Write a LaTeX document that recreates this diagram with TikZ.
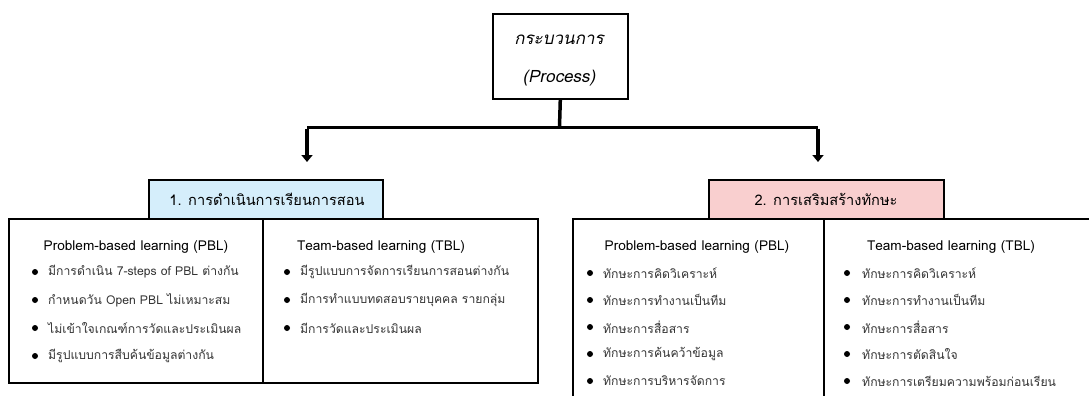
\documentclass[tikz,border=0pt]{standalone}
\usepackage{fontspec}
\setmainfont[Script=Thai]{Loma}
\newfontfamily\thaiit[Script=Thai,FakeSlant=0.2]{Loma}
\usetikzlibrary{arrows.meta}
\definecolor{hblue}{HTML}{D5EEFB}
\definecolor{hpink}{HTML}{F9CFCF}
\definecolor{txt}{HTML}{333333}
\tikzset{
  box/.style={draw=black, line width=1.6pt, inner sep=0pt, anchor=north west},
  hdr/.style={font=\fontsize{13.6}{15}\selectfont, inner sep=0pt, text=black},
  sechdr/.style={font=\fontsize{14.6}{16}\selectfont, inner sep=0pt, text=black},
  proctext/.style={font=\thaiit\fontsize{17}{19}\selectfont, inner sep=0pt},
  item/.style={font=\fontsize{12.2}{14}\selectfont, inner sep=0pt, anchor=west, text=txt},
  dot/.style={circle, fill=black, inner sep=0pt, minimum size=6pt},
  conn/.style={line width=3.5pt},
  arr/.style={line width=3.5pt, -{Triangle[width=11pt,length=7pt]}},
}
\begin{document}
\begin{tikzpicture}[x=1pt,y=-1pt]
\useasboundingbox (0,0) rectangle (1089,396);
% process box
\node[box, minimum width=135pt, minimum height=85pt] (proc) at (492,13) {};
\node[proctext] (procA) at (559,40) {กระบวนการ};
\node[proctext] (procB) at (559,78) {(Process)};
% connectors
\coordinate (j) at (559.5,127);
\coordinate (jl) at (307,127);
\coordinate (jr) at (818,127);
\coordinate (tl) at (307,162);
\coordinate (tr) at (818,162);
\draw[conn] (proc.south) -- (j);
\draw[conn, line width=3pt] (jl) -- (jr);
\draw[arr] ([yshift=-1.5pt]jl) -- (tl);
\draw[arr] ([yshift=-1.5pt]jr) -- (tr);
% section 1
\node[box, fill=hblue, minimum width=234pt, minimum height=39pt] (h1) at (148,179) {};
\node[sechdr] (h1t) at (267,199) {1. การดำเนินการเรียนการสอน};
\node[box, minimum width=254pt, minimum height=164pt] (c11) at (8,218) {};
\node[box, minimum width=275pt, minimum height=164pt] (c12) at (262,218) {};
\node[hdr] (c11h) at (136,247) {Problem-based learning (PBL)};
\node[hdr] (c12h) at (381,247) {Team-based learning (TBL)};
\node[dot] (b111) at (35,272) {}; \node[item] (t111) at (48,272) {มีการดำเนิน 7-steps of PBL ต่างกัน};
\node[dot] (b112) at (35,300) {}; \node[item] (t112) at (48,300) {กำหนดวัน Open PBL ไม่เหมาะสม};
\node[dot] (b113) at (35,328) {}; \node[item] (t113) at (48,328) {ไม่เข้าใจเกณฑ์การวัดและประเมินผล};
\node[dot] (b114) at (35,356) {}; \node[item] (t114) at (48,356) {มีรูปแบบการสืบค้นข้อมูลต่างกัน};
\node[dot] (b121) at (287,272) {}; \node[item] (t121) at (300,272) {มีรูปแบบการจัดการเรียนการสอนต่างกัน};
\node[dot] (b122) at (287,300) {}; \node[item] (t122) at (300,300) {มีการทำแบบทดสอบรายบุคคล รายกลุ่ม};
\node[dot] (b123) at (287,328) {}; \node[item] (t123) at (300,328) {มีการวัดและประเมินผล};
% section 2
\node[box, fill=hpink, minimum width=235pt, minimum height=39pt] (h2) at (708,179) {};
\node[sechdr] (h2t) at (826,199) {2. การเสริมสร้างทักษะ};
\node[box, minimum width=251pt, minimum height=190pt] (c21) at (572,218) {};
\node[box, minimum width=280pt, minimum height=190pt] (c22) at (823,218) {};
\node[hdr] (c21h) at (697,247) {Problem-based learning (PBL)};
\node[hdr] (c22h) at (951,247) {Team-based learning (TBL)};
\node[dot] (b211) at (590,273) {}; \node[item] (t211) at (603,273) {ทักษะการคิดวิเคราะห์};
\node[dot] (b212) at (590,300) {}; \node[item] (t212) at (603,300) {ทักษะการทำงานเป็นทีม};
\node[dot] (b213) at (590,327) {}; \node[item] (t213) at (603,327) {ทักษะการสื่อสาร};
\node[dot] (b214) at (590,354) {}; \node[item] (t214) at (603,354) {ทักษะการค้นคว้าข้อมูล};
\node[dot] (b215) at (590,381) {}; \node[item] (t215) at (603,381) {ทักษะการบริหารจัดการ};
\node[dot] (b221) at (847,273) {}; \node[item] (t221) at (862,273) {ทักษะการคิดวิเคราะห์};
\node[dot] (b222) at (847,300) {}; \node[item] (t222) at (862,300) {ทักษะการทำงานเป็นทีม};
\node[dot] (b223) at (847,327) {}; \node[item] (t223) at (862,327) {ทักษะการสื่อสาร};
\node[dot] (b224) at (847,354) {}; \node[item] (t224) at (862,354) {ทักษะการตัดสินใจ};
\node[dot] (b225) at (847,381) {}; \node[item] (t225) at (862,381) {ทักษะการเตรียมความพร้อมก่อนเรียน};
\end{tikzpicture}
\end{document}
